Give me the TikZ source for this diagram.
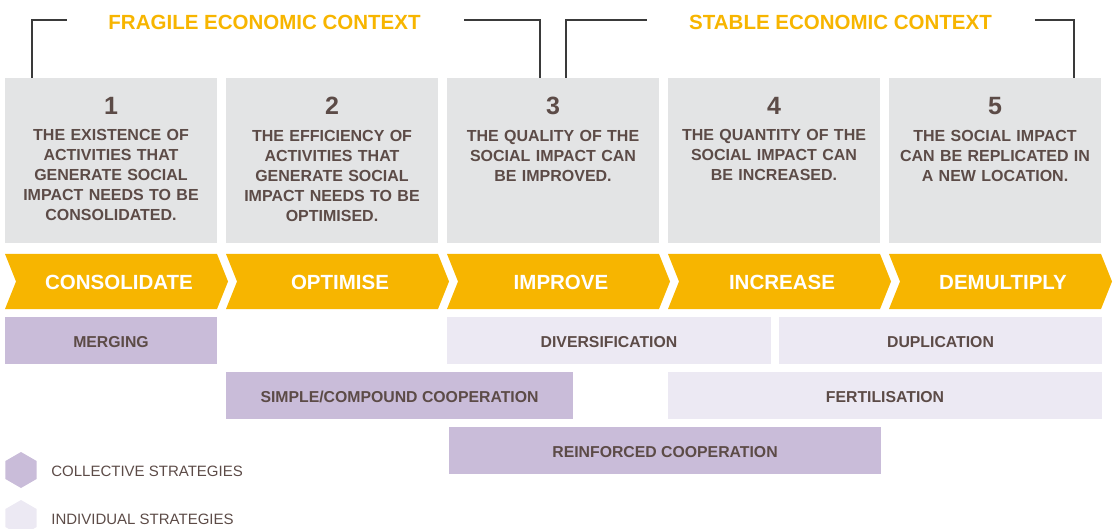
\documentclass[tikz,border=0pt]{standalone}
\usepackage{fontspec}
\setmainfont{Liberation Sans}
\usetikzlibrary{positioning, shapes.geometric}

\definecolor{ochre}{HTML}{F7B500}
\definecolor{panelgray}{HTML}{E3E4E5}
\definecolor{collective}{HTML}{C9BCD9}
\definecolor{individual}{HTML}{ECE9F3}
\definecolor{ink}{HTML}{5C4B47}
\definecolor{rule}{HTML}{3A3A3A}

\tikzset{
  panel/.style={fill=panelgray, minimum width=212pt, minimum height=165pt,
    inner sep=0pt, outer sep=0pt},
  stepnum/.style={inner sep=0pt, text=ink, font=\bfseries\fontsize{25}{25}\selectfont},
  stepdesc/.style={inner sep=0pt, text=ink, text width=210pt, align=center,
    font=\bfseries\fontsize{16}{20}\selectfont},
  chevron/.style={fill=ochre},
  chevlabel/.style={inner sep=0pt, text=white, font=\bfseries\fontsize{20.5}{20.5}\selectfont},
  context/.style={inner sep=0pt, text=ochre, font=\bfseries\fontsize{20.5}{20.5}\selectfont},
  bracket/.style={draw=rule, line width=1.3pt},
  bar/.style={inner sep=0pt, outer sep=0pt, minimum height=47pt, text height=13.5pt,
    text=ink, font=\bfseries\fontsize{15.8}{15.8}\selectfont},
  collbar/.style={bar, fill=collective},
  indbar/.style={bar, fill=individual},
  hexagon/.style={regular polygon, regular polygon sides=6, shape border rotate=30,
    minimum size=36pt, inner sep=0pt},
  legend/.style={inner sep=0pt, text=ink, font=\fontsize{15}{15}\selectfont}
}

\begin{document}
\begin{tikzpicture}[x=1pt, y=-1pt]
\useasboundingbox (0,0) rectangle (1113,529);

% stage panels
\node[panel] (s1) at (111,160.5) {};
\node[panel, right=9pt of s1] (s2) {};
\node[panel, right=9pt of s2] (s3) {};
\node[panel, right=9pt of s3] (s4) {};
\node[panel, right=9pt of s4] (s5) {};

\foreach \i in {1,...,5}
  \node[stepnum, below=19pt of s\i.north] (n\i) {\i};

\node[stepdesc, below=15pt of n1] (d1) {THE EXISTENCE OF\\ACTIVITIES THAT\\GENERATE SOCIAL\\IMPACT NEEDS TO BE\\CONSOLIDATED.};
\node[stepdesc, below=15pt of n2] (d2) {THE EFFICIENCY OF\\ACTIVITIES THAT\\GENERATE SOCIAL\\IMPACT NEEDS TO BE\\OPTIMISED.};
\node[stepdesc, below=15pt of n3] (d3) {THE QUALITY OF THE\\SOCIAL IMPACT CAN\\BE IMPROVED.};
\node[stepdesc, below=15pt of n4] (d4) {THE QUANTITY OF THE\\SOCIAL IMPACT CAN\\BE INCREASED.};
\node[stepdesc, below=15pt of n5] (d5) {THE SOCIAL IMPACT\\CAN BE REPLICATED IN\\A NEW LOCATION.};

% arrow band
\foreach \lbl [count=\i] in {CONSOLIDATE,OPTIMISE,IMPROVE,INCREASE,DEMULTIPLY}{
  \pgfmathsetmacro\xa{5+221*(\i-1)}
  \fill[chevron] (\xa,254) -- ++(212,0) -- ++(11,27.5) -- ++(-11,27.5)
    -- ++(-212,0) -- ++(11,-27.5) -- cycle;
  \node[chevlabel] (c\i) at (\xa+114,282.5) {\lbl};
}

% economic context
\node[context] (fragile) at (264.5,22.5) {FRAGILE ECONOMIC CONTEXT};
\node[context] (stable) at (840.5,22.5) {STABLE ECONOMIC CONTEXT};

\coordinate (fa) at (32,78);
\coordinate (fb) at (67,20);
\coordinate (fc) at (464,20);
\coordinate (fd) at (540,78);
\coordinate (sa) at (566,78);
\coordinate (sb) at (647,20);
\coordinate (sc) at (1035,20);
\coordinate (sd) at (1074,78);
\draw[bracket] (fa) |- (fb);
\draw[bracket] (fc) -| (fd);
\draw[bracket] (sa) |- (sb);
\draw[bracket] (sc) -| (sd);

% strategies
\node[collbar, minimum width=212pt] (merging) at (111,340.5) {MERGING};
\node[indbar, minimum width=324pt] (diversification) at (609,340.5) {DIVERSIFICATION};
\node[indbar, minimum width=323pt] (duplication) at (940.5,340.5) {DUPLICATION};
\node[collbar, minimum width=347pt] (simple) at (399.5,395.75) {SIMPLE/COMPOUND COOPERATION};
\node[indbar, minimum width=434pt] (fertilisation) at (885,395.75) {FERTILISATION};
\node[collbar, minimum width=432pt] (reinforced) at (665,450.5) {REINFORCED COOPERATION};

% legend
\node[hexagon, fill=collective] (hc) at (21,470) {};
\node[legend, right=14.4pt of hc, yshift=-1.5pt] (lc) {COLLECTIVE STRATEGIES};
\node[hexagon, fill=individual] (hi) at (21,518) {};
\node[legend, right=14.4pt of hi, yshift=-1.5pt] (li) {INDIVIDUAL STRATEGIES};
\end{tikzpicture}
\end{document}
